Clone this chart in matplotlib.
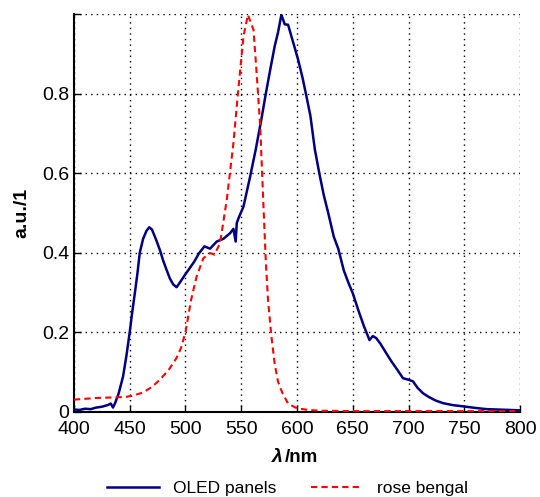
import matplotlib.pyplot as plt
import numpy as np

plt.rcParams["font.family"] = ["Liberation Sans", "DejaVu Sans"]

# OLED panel emission spectrum
oled_wl = [400, 405, 410, 415, 420, 425, 430, 433, 435, 437, 440, 444, 447, 450,
           452, 455, 457, 459, 462, 465, 467.5, 470, 474, 477, 480, 483, 486, 489,
           492, 495, 499.5, 504, 508, 512, 517, 522, 528, 534, 540, 543, 545, 546,
           548, 552, 558, 563, 568, 572, 576, 580, 583, 586, 589, 592, 596, 601,
           605, 608, 612, 616, 620, 624, 628, 633, 637, 642, 646, 650, 655, 660,
           665, 668, 671, 675, 680, 685, 690, 695, 700, 704, 708, 713, 718, 724,
           731, 740, 749, 760, 770, 780, 790, 800]
oled_int = [0.005, 0.004, 0.007, 0.006, 0.01, 0.012, 0.016, 0.02, 0.01, 0.022, 0.045, 0.088, 0.14, 0.2,
            0.245, 0.307, 0.35, 0.40, 0.435, 0.455, 0.464, 0.458, 0.43, 0.407, 0.38, 0.357, 0.335, 0.32,
            0.313, 0.325, 0.344, 0.362, 0.378, 0.398, 0.416, 0.41, 0.428, 0.435, 0.449, 0.46, 0.428, 0.475,
            0.49, 0.516, 0.592, 0.66, 0.735, 0.80, 0.861, 0.92, 0.955, 0.999, 0.975, 0.974, 0.935, 0.886,
            0.84, 0.80, 0.745, 0.66, 0.60, 0.545, 0.50, 0.44, 0.41, 0.355, 0.325, 0.298, 0.255, 0.215,
            0.18, 0.19, 0.185, 0.17, 0.147, 0.125, 0.105, 0.084, 0.08, 0.076, 0.06, 0.046, 0.037, 0.028,
            0.021, 0.016, 0.013, 0.009, 0.006, 0.005, 0.004, 0.003]

# rose bengal absorption spectrum
rb_wl = [400, 410, 420, 430, 440, 447, 453, 462, 470, 477, 485, 492, 496, 500, 505,
         510, 516, 522, 526, 531, 537, 543, 547, 552, 556, 561, 564, 567, 570, 572,
         574, 577, 580, 583, 587, 592, 600, 610, 620, 650, 700, 750, 800]
rb_int = [0.03, 0.032, 0.034, 0.035, 0.036, 0.037, 0.04, 0.048, 0.062, 0.08, 0.105, 0.135, 0.16, 0.2, 0.281,
          0.34, 0.386, 0.399, 0.395, 0.424, 0.533, 0.676, 0.80, 0.945, 0.999, 0.961, 0.844, 0.718, 0.512, 0.38,
          0.281, 0.19, 0.12, 0.075, 0.046, 0.02, 0.008, 0.004, 0.002, 0.001, 0.001, 0.001, 0.001]

fig = plt.figure(figsize=(5.4, 4.97), dpi=100)
ax = fig.add_axes([0.137, 0.172, 0.826, 0.799])

ax.plot(oled_wl, oled_int, color="#000080", lw=1.8, label="OLED panels", zorder=3)
ax.plot(rb_wl, rb_int, color="#ff0000", lw=1.5, ls=(0, (3, 2)), label="rose bengal", zorder=4)

ax.set_xlim(400, 800)
ax.set_ylim(0, 1)
ax.set_xticks(np.arange(400, 801, 50))
ax.set_yticks([0, 0.2, 0.4, 0.6, 0.8, 1.0])
ax.set_yticklabels(["0", "0.2", "0.4", "0.6", "0.8", ""])
ax.tick_params(direction="in", length=5, width=1, labelsize=14)
ax.tick_params(axis="x", pad=7)
ax.grid(True, ls=(0, (1, 3)), color="black", lw=1)

ax.spines["top"].set_visible(False)
ax.spines["right"].set_visible(False)
ax.spines["left"].set_linewidth(1.5)
ax.spines["bottom"].set_linewidth(1.5)

ax.set_ylabel("a.u./1", fontsize=14, fontweight="bold", labelpad=8)
fig.text(0.524, 0.080, "λ", fontsize=14, fontweight="bold", style="italic", ha="right", va="center")
fig.text(0.528, 0.080, "/nm", fontsize=13.5, fontweight="bold", ha="left", va="center")

fig.legend(loc="center", bbox_to_anchor=(0.533, 0.018), ncol=2, frameon=False,
           fontsize=12.5, handlelength=3.0, handletextpad=0.8, columnspacing=2.0)

fig.savefig("out.png", dpi=100)
